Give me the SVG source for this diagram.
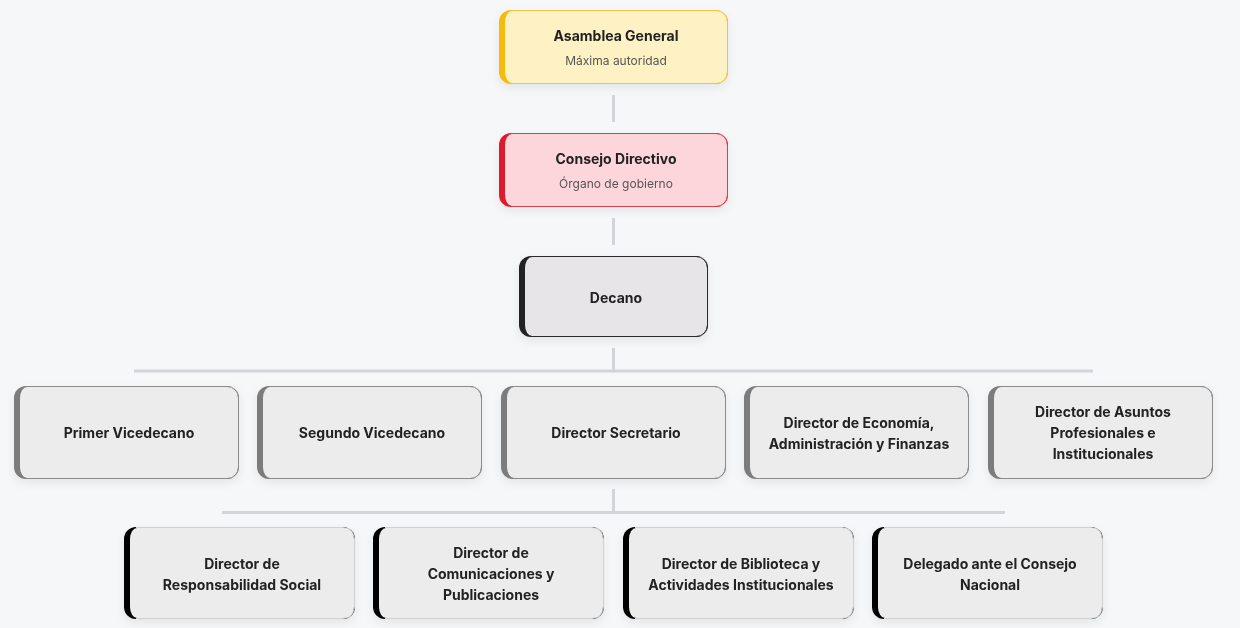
<svg xmlns="http://www.w3.org/2000/svg" width="1240" height="628" viewBox="0 0 1240 628">
<style>
.t{font-family:Inter,"Noto Sans","Liberation Sans",sans-serif;font-weight:700;font-size:14px;fill:#222;text-anchor:middle}
.s{font-family:Inter,"Noto Sans","Liberation Sans",sans-serif;font-weight:400;font-size:12px;fill:#555;text-anchor:middle}
.c{stroke:#d1d4d9;stroke-width:3;fill:none}
</style>
<defs>
<filter id="sh" x="-20%" y="-30%" width="140%" height="170%">
<feDropShadow dx="0" dy="4" stdDeviation="5" flood-color="#000" flood-opacity="0.07"/>
</filter>
</defs>
<rect width="1240" height="628" fill="#f6f7f9"/>

<g id="connectors">
<line class="c" x1="613.5" y1="95" x2="613.5" y2="122"/>
<line class="c" x1="613.5" y1="218" x2="613.5" y2="245"/>
<line class="c" x1="613.5" y1="348" x2="613.5" y2="372"/>
<line class="c" x1="134" y1="371" x2="1093" y2="371"/>
<line class="c" x1="613.5" y1="489" x2="613.5" y2="513"/>
<line class="c" x1="222" y1="512.5" x2="1005" y2="512.5"/>
</g>

<g id="asamblea" transform="translate(499,10)" filter="url(#sh)">
<rect width="229" height="74" rx="12" fill="#f6b90c"/>
<rect x="6" y="1" width="222" height="72" rx="7" ry="11" fill="#fef1c3"/>
<path d="M12 0.5H217A11.5 11.5 0 0 1 228.5 12V62A11.5 11.5 0 0 1 217 73.5H12" fill="none" stroke="#ecc44a"/>
<text class="t" x="117" y="31">Asamblea General</text>
<text class="s" x="117" y="55">Máxima autoridad</text>
</g>

<g id="consejo" transform="translate(499,133)" filter="url(#sh)">
<rect width="229" height="74" rx="12" fill="#dc1f2e"/>
<rect x="6" y="1" width="222" height="72" rx="7" ry="11" fill="#fdd6db"/>
<path d="M12 0.5H217A11.5 11.5 0 0 1 228.5 12V62A11.5 11.5 0 0 1 217 73.5H12" fill="none" stroke="#d8404c"/>
<text class="t" x="117" y="31">Consejo Directivo</text>
<text class="s" x="117" y="55">Órgano de gobierno</text>
</g>

<g id="decano" transform="translate(519,256)" filter="url(#sh)">
<rect width="189" height="81" rx="12" fill="#222"/>
<rect x="6" y="1" width="182" height="79" rx="7" ry="11" fill="#e7e5e8"/>
<path d="M12 0.5H177A11.5 11.5 0 0 1 188.5 12V69A11.5 11.5 0 0 1 177 80.5H12" fill="none" stroke="#2a2a2a"/>
<text class="t" x="97" y="47">Decano</text>
</g>

<g id="primer-vicedecano" transform="translate(14,386)" filter="url(#sh)">
<rect width="225" height="93" rx="12" fill="#7b7b7b"/>
<rect x="6" y="1" width="218" height="91" rx="7" ry="11" fill="#ececec"/>
<path d="M12 0.5H213A11.5 11.5 0 0 1 224.5 12V81A11.5 11.5 0 0 1 213 92.5H12" fill="none" stroke="#8c8c8c"/>
<text class="t" x="115" y="52">Primer Vicedecano</text>
</g>

<g id="segundo-vicedecano" transform="translate(257,386)" filter="url(#sh)">
<rect width="225" height="93" rx="12" fill="#7b7b7b"/>
<rect x="6" y="1" width="218" height="91" rx="7" ry="11" fill="#ececec"/>
<path d="M12 0.5H213A11.5 11.5 0 0 1 224.5 12V81A11.5 11.5 0 0 1 213 92.5H12" fill="none" stroke="#8c8c8c"/>
<text class="t" x="115" y="52">Segundo Vicedecano</text>
</g>

<g id="director-secretario" transform="translate(501,386)" filter="url(#sh)">
<rect width="225" height="93" rx="12" fill="#7b7b7b"/>
<rect x="6" y="1" width="218" height="91" rx="7" ry="11" fill="#ececec"/>
<path d="M12 0.5H213A11.5 11.5 0 0 1 224.5 12V81A11.5 11.5 0 0 1 213 92.5H12" fill="none" stroke="#8c8c8c"/>
<text class="t" x="115" y="52">Director Secretario</text>
</g>

<g id="director-economia" transform="translate(744,386)" filter="url(#sh)">
<rect width="225" height="93" rx="12" fill="#7b7b7b"/>
<rect x="6" y="1" width="218" height="91" rx="7" ry="11" fill="#ececec"/>
<path d="M12 0.5H213A11.5 11.5 0 0 1 224.5 12V81A11.5 11.5 0 0 1 213 92.5H12" fill="none" stroke="#8c8c8c"/>
<text class="t" x="115" y="42">Director de Economía,</text>
<text class="t" x="115" y="63">Administración y Finanzas</text>
</g>

<g id="director-asuntos" transform="translate(988,386)" filter="url(#sh)">
<rect width="225" height="93" rx="12" fill="#7b7b7b"/>
<rect x="6" y="1" width="218" height="91" rx="7" ry="11" fill="#ececec"/>
<path d="M12 0.5H213A11.5 11.5 0 0 1 224.5 12V81A11.5 11.5 0 0 1 213 92.5H12" fill="none" stroke="#8c8c8c"/>
<text class="t" x="115" y="31">Director de Asuntos</text>
<text class="t" x="115" y="52">Profesionales e</text>
<text class="t" x="115" y="73">Institucionales</text>
</g>

<g id="director-responsabilidad" transform="translate(124,527)" filter="url(#sh)">
<rect width="231" height="92" rx="12" fill="#000"/>
<rect x="6" y="1" width="224" height="90" rx="7" ry="11" fill="#ececec"/>
<path d="M12 0.5H219A11.5 11.5 0 0 1 230.5 12V80A11.5 11.5 0 0 1 219 91.5H12" fill="none" stroke="#d0d0d0"/>
<text class="t" x="118" y="42">Director de</text>
<text class="t" x="118" y="63">Responsabilidad Social</text>
</g>

<g id="director-comunicaciones" transform="translate(373,527)" filter="url(#sh)">
<rect width="231" height="92" rx="12" fill="#000"/>
<rect x="6" y="1" width="224" height="90" rx="7" ry="11" fill="#ececec"/>
<path d="M12 0.5H219A11.5 11.5 0 0 1 230.5 12V80A11.5 11.5 0 0 1 219 91.5H12" fill="none" stroke="#d0d0d0"/>
<text class="t" x="118" y="31">Director de</text>
<text class="t" x="118" y="52">Comunicaciones y</text>
<text class="t" x="118" y="73">Publicaciones</text>
</g>

<g id="director-biblioteca" transform="translate(623,527)" filter="url(#sh)">
<rect width="231" height="92" rx="12" fill="#000"/>
<rect x="6" y="1" width="224" height="90" rx="7" ry="11" fill="#ececec"/>
<path d="M12 0.5H219A11.5 11.5 0 0 1 230.5 12V80A11.5 11.5 0 0 1 219 91.5H12" fill="none" stroke="#d0d0d0"/>
<text class="t" x="118" y="42">Director de Biblioteca y</text>
<text class="t" x="118" y="63">Actividades Institucionales</text>
</g>

<g id="delegado" transform="translate(872,527)" filter="url(#sh)">
<rect width="231" height="92" rx="12" fill="#000"/>
<rect x="6" y="1" width="224" height="90" rx="7" ry="11" fill="#ececec"/>
<path d="M12 0.5H219A11.5 11.5 0 0 1 230.5 12V80A11.5 11.5 0 0 1 219 91.5H12" fill="none" stroke="#d0d0d0"/>
<text class="t" x="118" y="42">Delegado ante el Consejo</text>
<text class="t" x="118" y="63">Nacional</text>
</g>
</svg>
